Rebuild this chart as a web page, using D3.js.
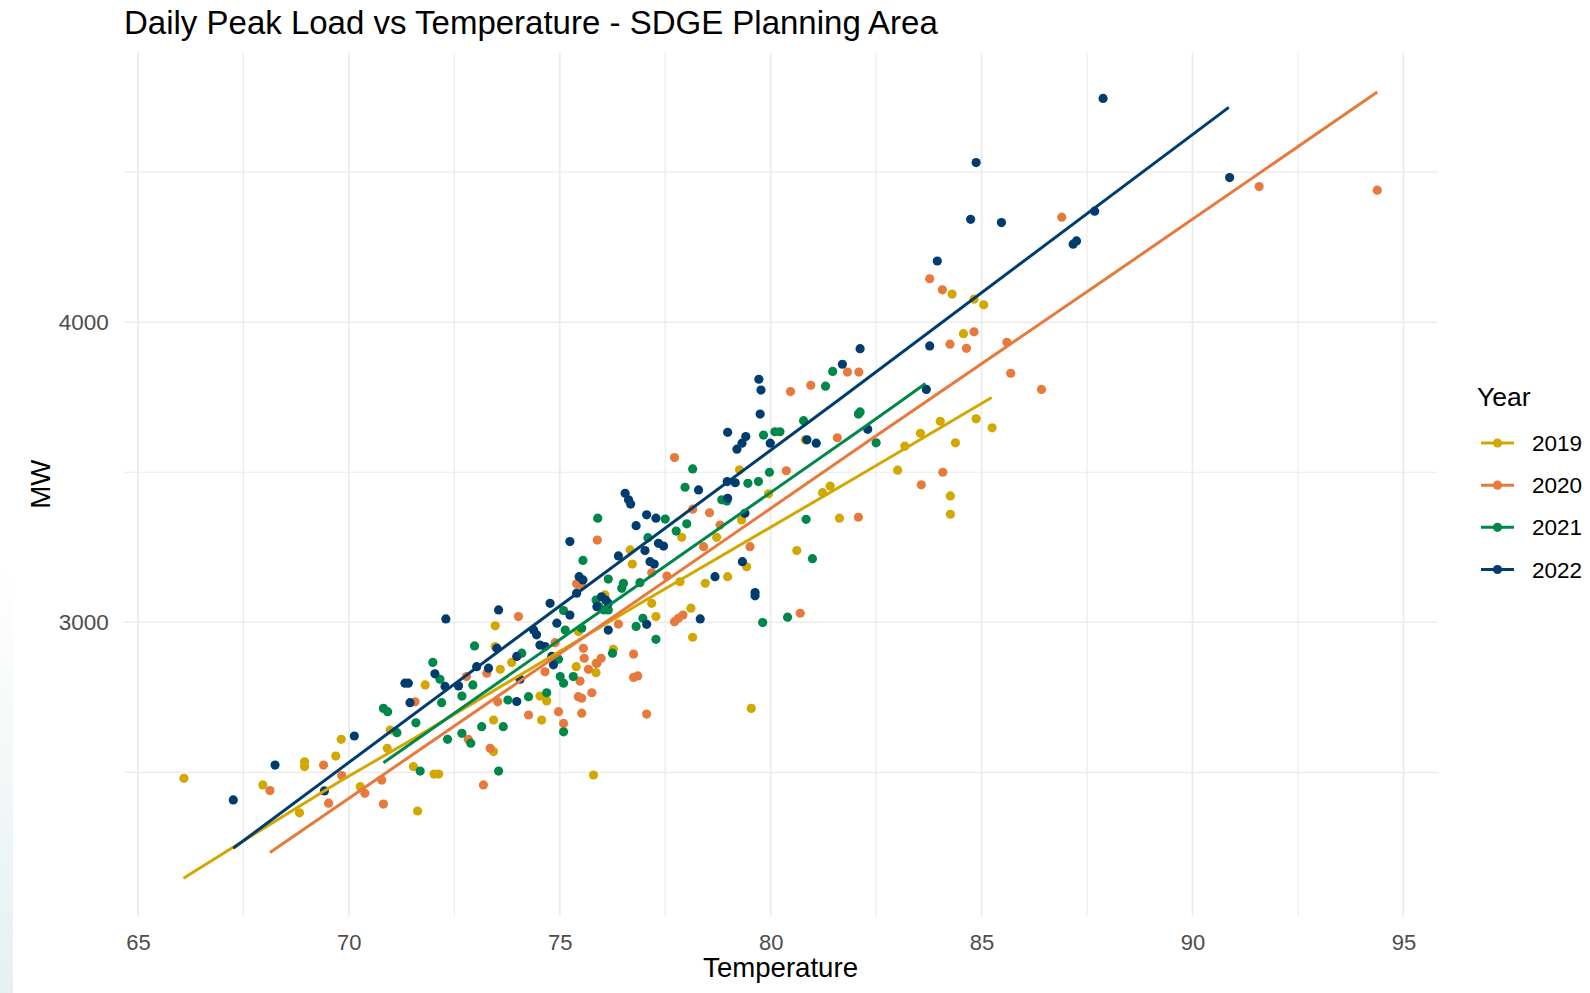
<!DOCTYPE html>
<html>
<head>
<meta charset="utf-8">
<script src="https://cdn.jsdelivr.net/npm/d3@7"></script>
<style>
  html, body { margin: 0; padding: 0; background: #ffffff; }
  svg { display: block; }
  text { font-family: "Liberation Sans", Arial, sans-serif; }
</style>
</head>
<body>
<svg id="chart" width="1590" height="993"></svg>
<script>
// ---------------- DATA ----------------
const years = ["2019", "2020", "2021", "2022"];
const colors = ["#D2A800", "#E8793D", "#00874A", "#003D6E"];

const xTicks = [65, 70, 75, 80, 85, 90, 95];
const xMinorTicks = [67.5, 72.5, 77.5, 82.5, 87.5, 92.5];
const yTicks = [3000, 4000];
const yMinorTicks = [2500, 3500, 4500];

// observed daily peaks: [temperature, MW]
const points2019 = [
  [66.09,2480],[67.96,2458],[68.83,2365],[68.95,2535],[68.95,2519],[69.69,2554],[69.82,2610],
  [70.98,2641],[70.91,2580],[71.63,2371],[71.53,2519],[70.27,2452],[72.02,2494],[72.13,2494],
  [73.43,2569],[75.80,2491],
  [80.82,3608],[79.26,3508],[79.95,3428],[79.31,3341],[77.89,3283],[78.72,3283],[81.23,3432],
  [81.41,3454],[81.63,3347],[80.62,3239],[79.43,3185],[78.98,3152],[78.45,3130],[77.85,3135],
  [76.72,3194],[76.67,3241],[78.11,3047],[78.15,2950],[77.28,3019],[76.07,3091],[77.18,3063],
  [76.27,2910],[75.86,2863],[75.86,2832],[75.39,2852],[73.86,2866],[73.47,2988],[73.47,2919],
  [71.81,2791],[73.59,2843],[74.53,2754],[74.69,2738],[73.43,2674],[74.57,2674],[79.54,2713],
  [75.44,2969],
  [84.30,4094],[84.82,4077],[85.05,4058],[84.57,3962],[84.87,3678],[85.25,3648],[84.02,3670],
  [83.55,3630],[83.18,3587],[84.38,3598],[83.01,3507],[84.26,3421],[84.26,3360]
];
const points2020 = [
  [68.13,2439],[69.40,2524],[69.83,2489],[69.52,2397],[70.38,2430],[70.78,2474],[70.82,2394],
  [73.19,2458],[73.35,2580],[72.83,2610],
  [77.72,3549],[75.89,3274],[80.37,3505],[78.55,3365],[81.58,3615],[82.08,3350],[78.80,3324],
  [78.15,3377],[75.40,3128],[75.52,3124],[77.18,3165],[77.54,3154],[78.41,3252],[80.70,3030],
  [77.72,3002],[77.81,3013],[77.92,3024],[74.02,3019],[76.75,2894],[76.85,2821],[76.75,2816],
  [77.06,2694],[76.39,2994],[75.56,2913],[75.58,2880],[75.98,2880],[75.88,2863],[75.68,2843],
  [75.48,2804],[75.76,2765],[75.44,2752],[75.52,2747],[74.97,2702],[75.09,2663],[75.52,2697],
  [74.26,2691],[74.65,2835],[74.89,2932],[73.53,2735],[73.27,2830],[72.79,2819],[71.57,2735],
  [79.51,3252],
  [91.58,4452],[94.38,4440],[86.90,4350],[83.77,4145],[84.07,4108],[84.82,3968],[84.25,3927],
  [84.64,3913],[85.60,3933],[85.69,3830],[86.42,3776],[80.47,3769],[80.95,3790],[81.82,3834],
  [82.09,3834],[84.08,3500],[83.57,3458]
];
const points2021 = [
  [70.82,2713],[70.92,2702],[71.14,2632],[71.69,2504],[72.34,2610],[72.89,2597],[73.55,2504],
  [73.77,2741],
  [78.15,3511],[77.97,3450],[78.01,3328],[79.83,3624],[80.10,3635],[80.22,3635],[80.78,3672],
  [82.08,3694],[79.97,3500],[79.71,3469],[79.46,3463],[78.84,3408],[78.96,3404],[77.50,3344],
  [77.76,3304],[77.09,3282],[75.90,3347],[75.55,3206],[76.15,3144],[76.51,3130],[76.47,3113],
  [76.90,3132],[75.86,3074],[75.93,3052],[76.05,3041],[76.15,3041],[80.84,3343],[80.99,3212],
  [80.40,3017],[79.81,2999],[76.81,2986],[76.97,3013],[77.28,2943],[76.25,2897],[75.09,3039],
  [75.13,2974],[75.52,2980],[72.98,2921],[71.99,2866],[72.16,2810],[72.68,2754],[72.94,2791],
  [74.10,2897],[74.26,2752],[74.69,2765],[75.01,2819],[75.09,2797],[75.32,2819],[74.97,2877],
  [73.66,2652],[73.15,2652],[72.68,2630],[71.59,2665],[72.20,2732],[75.09,2635],
  [81.47,3836],[81.30,3787],[82.12,3701],[82.50,3598]
];
const points2022 = [
  [67.26,2408],[68.25,2524],[70.13,2621],[69.42,2438],
  [79.75,3694],[78.98,3633],[79.20,3577],[79.32,3597],[79.41,3619],[79.99,3597],[80.86,3608],
  [81.08,3597],[76.55,3430],[76.63,3408],[76.68,3394],[77.06,3358],[77.28,3347],[76.81,3322],
  [78.29,3441],[78.97,3469],[79.16,3465],[78.98,3413],[75.24,3269],[76.39,3221],[77.02,3239],
  [77.14,3202],[77.24,3194],[77.34,3263],[77.46,3254],[79.39,3363],[79.33,3202],[78.68,3152],
  [79.63,3099],[79.63,3088],[78.33,3011],[77.06,2993],[76.15,2974],[75.46,3152],[75.55,3141],
  [75.40,3097],[75.99,3085],[76.09,3074],[76.15,3063],[75.88,3052],[74.77,3063],[75.24,3024],
  [74.93,2997],[73.55,3041],[72.30,3011],[74.38,2974],[74.45,2958],[74.53,2924],[74.65,2919],
  [73.51,2913],[73.98,2886],[74.81,2886],[74.85,2858],[73.03,2852],[73.31,2847],[72.60,2788],
  [72.28,2786],[72.04,2828],[71.33,2797],[71.41,2797],[73.98,2736],[71.45,2732],[74.06,2810],
  [87.88,4746],[84.87,4532],[84.74,4343],[85.47,4332],[83.95,4204],[87.17,4260],[87.25,4271],
  [87.68,4370],[90.88,4482],[83.77,3921],[82.12,3912],[81.70,3860],[83.69,3776],[79.72,3810],
  [79.77,3774],[82.30,3643]
];

// fitted lines: [temperature, MW]
const fit2019 = [[66.08,2147],[67.22,2247],[69.79,2470],[71.53,2612],[76.75,3050],[82.12,3491],[85.24,3749]];
const fit2020 = [[68.13,2233],[75.00,2895],[82.12,3585],[88.00,4150],[94.38,4767]];
const fit2021 = [[70.82,2532],[76.00,3040],[82.12,3641],[83.00,3728],[83.67,3796]];
const fit2022 = [[67.26,2247],[74.00,2950],[81.61,3741],[90.86,4716]];

const pointsByYear = [points2019, points2020, points2021, points2022];
const fitsByYear = [fit2019, fit2020, fit2021, fit2022];

// ---------------- CHART ----------------
const svg = d3.select("#chart");
const panel = { left: 123.8, right: 1437.3, top: 52.5, bottom: 916 };

const x = d3.scaleLinear().domain([64.665, 95.803]).range([panel.left, panel.right]);
const y = d3.scaleLinear().domain([2021, 4899]).range([panel.bottom, panel.top]);
const color = d3.scaleOrdinal().domain(years).range(colors);

// faint screenshot edge tint at left
const defs = svg.append("defs");
const grad = defs.append("linearGradient").attr("id", "edge").attr("x1", 0).attr("y1", 0).attr("x2", 0).attr("y2", 1);
grad.append("stop").attr("offset", "0%").attr("stop-color", "#ffffff");
grad.append("stop").attr("offset", "100%").attr("stop-color", "#E6F0F2");
svg.append("rect").attr("x", 0).attr("y", 560).attr("width", 13).attr("height", 433).attr("fill", "url(#edge)");

// grid
const grid = svg.append("g");
grid.selectAll("line.vminor").data(xMinorTicks).join("line")
  .attr("x1", d => x(d)).attr("x2", d => x(d)).attr("y1", panel.top).attr("y2", panel.bottom)
  .attr("stroke", "#EBEBEB").attr("stroke-width", 1.2);
grid.selectAll("line.hminor").data(yMinorTicks).join("line")
  .attr("x1", panel.left).attr("x2", panel.right).attr("y1", d => y(d)).attr("y2", d => y(d))
  .attr("stroke", "#EBEBEB").attr("stroke-width", 1.2);
grid.selectAll("line.vmajor").data(xTicks).join("line")
  .attr("x1", d => x(d)).attr("x2", d => x(d)).attr("y1", panel.top).attr("y2", panel.bottom)
  .attr("stroke", "#EBEBEB").attr("stroke-width", 1.7);
grid.selectAll("line.hmajor").data(yTicks).join("line")
  .attr("x1", panel.left).attr("x2", panel.right).attr("y1", d => y(d)).attr("y2", d => y(d))
  .attr("stroke", "#EBEBEB").attr("stroke-width", 1.7);

// axes
const xAxis = svg.append("g").attr("transform", `translate(0,${panel.bottom})`)
  .call(d3.axisBottom(x).tickValues(xTicks).tickSize(0).tickPadding(18).tickFormat(d3.format("d")));
xAxis.select(".domain").remove();
xAxis.selectAll("text").attr("font-size", 22).attr("fill", "#4D4D4D")
  .attr("font-family", "Liberation Sans, Arial, sans-serif");

const yAxis = svg.append("g").attr("transform", `translate(${panel.left},0)`)
  .call(d3.axisLeft(y).tickValues(yTicks).tickSize(0).tickPadding(15).tickFormat(d3.format("d")));
yAxis.select(".domain").remove();
yAxis.selectAll("text").attr("font-size", 22.5).attr("fill", "#4D4D4D")
  .attr("font-family", "Liberation Sans, Arial, sans-serif");

// points
pointsByYear.forEach((pts, i) => {
  svg.append("g").selectAll("circle").data(pts).join("circle")
    .attr("cx", d => x(d[0])).attr("cy", d => y(d[1])).attr("r", 4.6)
    .attr("fill", color(years[i]));
});

// fitted lines
const line = d3.line().x(d => x(d[0])).y(d => y(d[1]));
fitsByYear.forEach((f, i) => {
  svg.append("path").datum(f).attr("d", line)
    .attr("fill", "none").attr("stroke", color(years[i])).attr("stroke-width", 3)
    .attr("stroke-linejoin", "round");
});

// titles
svg.append("text").attr("x", 124).attr("y", 33.5).attr("font-size", 33).attr("fill", "#000")
  .text("Daily Peak Load vs Temperature - SDGE Planning Area");
svg.append("text").attr("x", (panel.left + panel.right) / 2).attr("y", 977).attr("text-anchor", "middle")
  .attr("font-size", 27.6).attr("fill", "#000").text("Temperature");
svg.append("text").attr("transform", `translate(50,${(panel.top + panel.bottom) / 2}) rotate(-90)`)
  .attr("text-anchor", "middle").attr("font-size", 27.6).attr("fill", "#000").text("MW");

// legend
const legend = svg.append("g");
legend.append("text").attr("x", 1477).attr("y", 406).attr("font-size", 26.5).attr("fill", "#000").text("Year");
const rowY = d3.scalePoint().domain(years).range([443, 569.5]);
years.forEach(yr => {
  const g = legend.append("g").attr("transform", `translate(0,${rowY(yr)})`);
  g.append("line").attr("x1", 1481).attr("x2", 1514).attr("y1", 0).attr("y2", 0)
    .attr("stroke", color(yr)).attr("stroke-width", 3);
  g.append("circle").attr("cx", 1497.5).attr("cy", 0).attr("r", 4.6).attr("fill", color(yr));
  g.append("text").attr("x", 1532).attr("y", 0).attr("dy", "0.36em").attr("font-size", 22.5)
    .attr("fill", "#000").text(yr);
});
</script>
</body>
</html>
